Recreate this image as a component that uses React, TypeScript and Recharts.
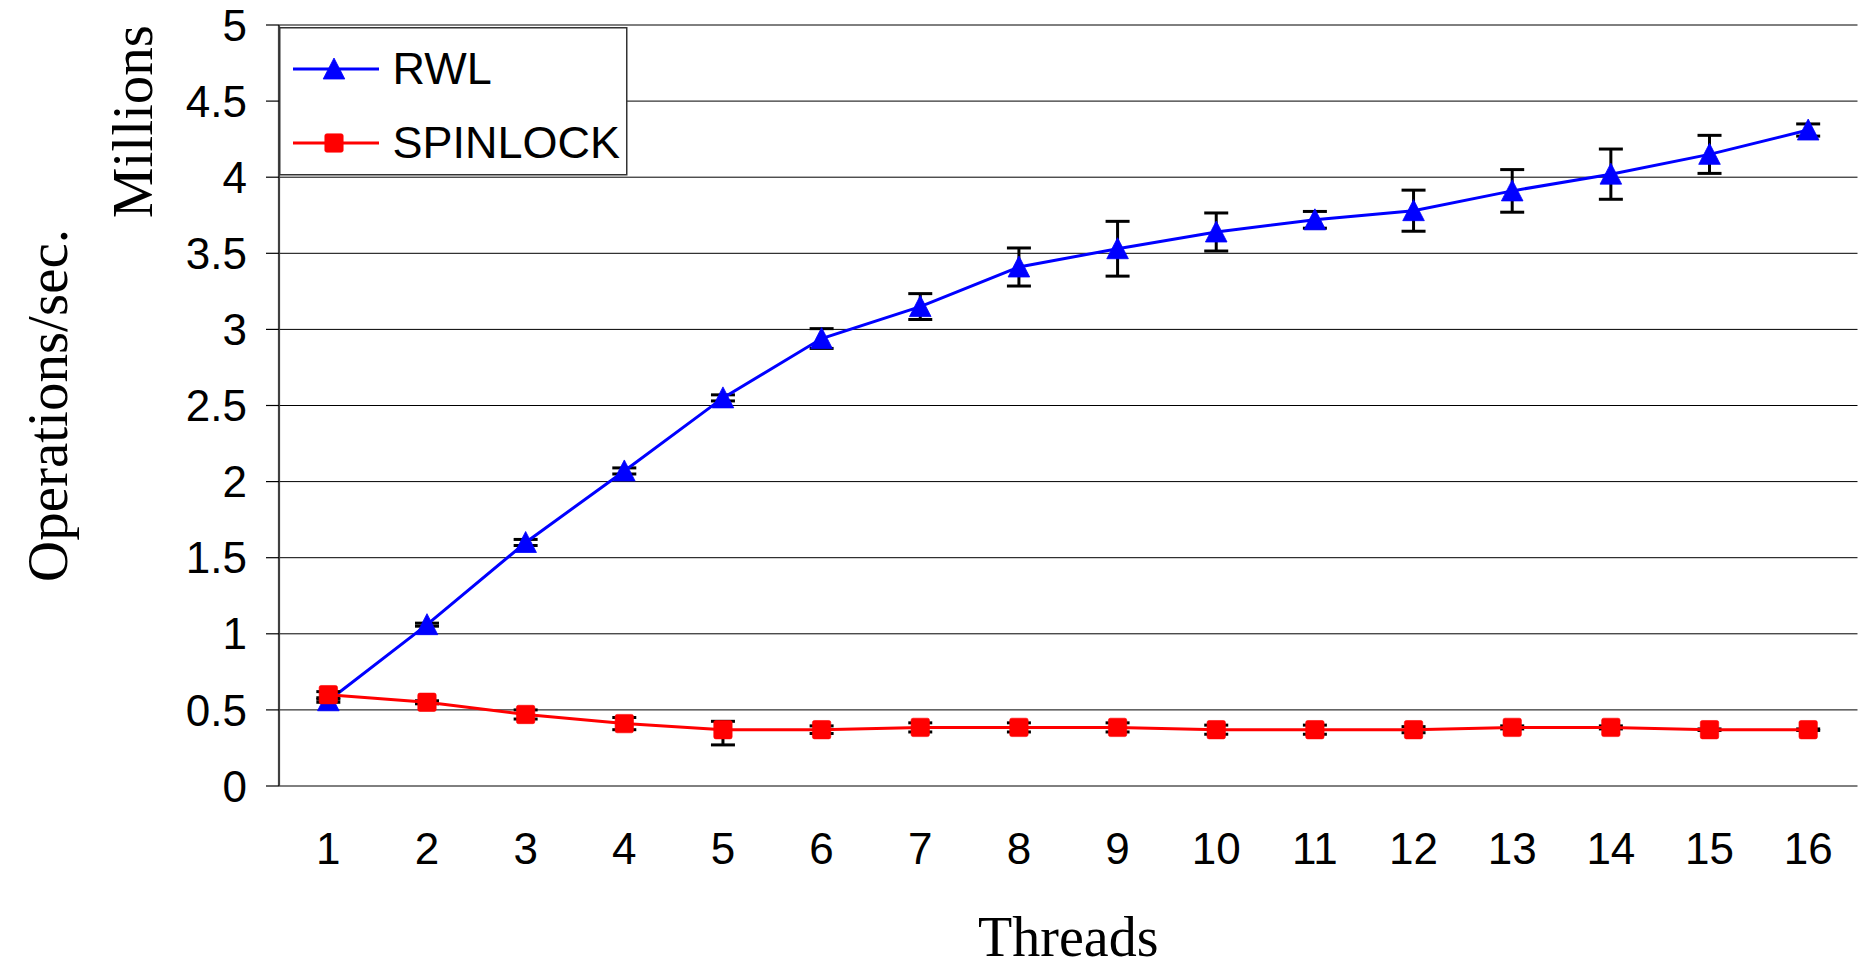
import React from 'react';
import { LineChart, Line, XAxis, YAxis, CartesianGrid, ErrorBar, Legend, Label } from 'recharts';

// Throughput (millions of operations per second) by thread count
const threads = [1, 2, 3, 4, 5, 6, 7, 8, 9, 10, 11, 12, 13, 14, 15, 16];
const rwlOps = [0.56, 1.06, 1.6, 2.07, 2.55, 2.94, 3.15, 3.41, 3.53, 3.64, 3.72, 3.78, 3.91, 4.02, 4.15, 4.31];
const rwlErr = [0.01, 0.01, 0.02, 0.02, 0.02, 0.065, 0.085, 0.125, 0.18, 0.125, 0.055, 0.135, 0.14, 0.165, 0.125, 0.04];
const spinOps = [0.6, 0.55, 0.47, 0.41, 0.37, 0.37, 0.385, 0.385, 0.385, 0.37, 0.37, 0.37, 0.385, 0.385, 0.37, 0.37];
const spinErrLow = [0.02, 0.01, 0.03, 0.04, 0.1, 0.025, 0.03, 0.03, 0.03, 0.03, 0.03, 0.02, 0.01, 0.01, 0.005, 0.005];
const spinErrHigh = [0.02, 0.01, 0.03, 0.04, 0.055, 0.025, 0.03, 0.03, 0.03, 0.03, 0.03, 0.02, 0.01, 0.01, 0.005, 0.005];
const yTicks = [0, 0.5, 1, 1.5, 2, 2.5, 3, 3.5, 4, 4.5, 5];

const threadBounds = [...threads.map((t) => t - 0.5), threads[threads.length - 1] + 0.5];

const rows = threads.map((t, i) => ({
  threads: t,
  rwl: rwlOps[i],
  rwlErr: rwlErr[i],
  spin: spinOps[i],
  spinErr: [spinErrLow[i], spinErrHigh[i]],
}));

const SANS = 'Liberation Sans, Arial, sans-serif';
const SERIF = 'Liberation Serif, Times New Roman, serif';
const BLUE = '#0000FF';
const RED = '#FF0000';

const triangle = (cx: number, cy: number, color: string, key?: React.Key) => (
  <path
    key={key}
    d={`M${cx},${cy - 11} L${cx + 10.8},${cy + 10} L${cx - 10.8},${cy + 10} Z`}
    fill={color}
    stroke={color}
    strokeWidth={0.8}
    strokeLinejoin="round"
  />
);

const square = (cx: number, cy: number, color: string, key?: React.Key) => (
  <rect key={key} x={cx - 9.2} y={cy - 9.2} width={18.4} height={18.4} rx={2} fill={color} stroke={color} strokeWidth={0.6} />
);

const TriangleDot = (p: any) => (p.cx == null ? null : triangle(p.cx, p.cy, BLUE, `t-${p.index}`));
const SquareDot = (p: any) => (p.cx == null ? null : square(p.cx, p.cy, RED, `s-${p.index}`));

const LegendBox = (props: any) => {
  const payload = props.payload || [];
  const rowsY = [42, 116];
  return (
    <svg width={349} height={149} style={{ display: 'block' }}>
      <rect x={0.75} y={0.75} width={347} height={147} fill="#fff" stroke="#333" strokeWidth={1.5} />
      {payload.map((entry: any, i: number) => {
        const y = rowsY[i];
        const color = entry.color;
        return (
          <g key={entry.value}>
            <line x1={14} x2={100} y1={y} y2={y} stroke={color} strokeWidth={3} />
            {entry.dataKey === 'rwl' ? triangle(55, y, color) : square(55, y, color)}
            <text x={113.5} y={y + 15} fontFamily={SANS} fontSize={45} fill="#000">
              {entry.value}
            </text>
          </g>
        );
      })}
    </svg>
  );
};

const OpsTitle = (props: any) => {
  const vb = props.viewBox;
  if (!vb) return null;
  return (
    <text
      transform={`translate(${vb.x + 67},${vb.y + vb.height / 2}) rotate(-90)`}
      textAnchor="middle"
      fontFamily={SERIF}
      fontSize={57}
      fill="#000"
    >
      Operations/sec.
    </text>
  );
};

const MillionsTitle = (props: any) => {
  const vb = props.viewBox;
  if (!vb) return null;
  return (
    <text
      transform={`translate(${vb.x + 152},${vb.y}) rotate(-90)`}
      textAnchor="end"
      fontFamily={SERIF}
      fontSize={57}
      fill="#000"
    >
      Millions
    </text>
  );
};

export default function App() {
  return (
    <div style={{ position: 'absolute', left: 0, top: 0, width: 1865, height: 964, background: '#fff' }}>
      <LineChart width={1865} height={964} data={rows} margin={{ top: 25, right: 7.5, bottom: 0, left: 0 }}>
        <CartesianGrid vertical={false} stroke="#000" strokeWidth={1} />
        {/* tick marks between categories */}
        <XAxis
          xAxisId="bounds"
          type="number"
          dataKey="threads"
          domain={[threadBounds[0], threadBounds[threadBounds.length - 1]]}
          ticks={threadBounds}
          interval={0}
          height={0}
          tickSize={13}
          tickFormatter={() => ''}
          tickLine={{ stroke: '#000', strokeWidth: 1.2 }}
          axisLine={{ stroke: '#404040', strokeWidth: 2.2 }}
        />
        {/* category labels */}
        <XAxis
          type="number"
          dataKey="threads"
          domain={[threadBounds[0], threadBounds[threadBounds.length - 1]]}
          ticks={threads}
          interval={0}
          height={178}
          tickSize={13}
          tickMargin={34}
          tickLine={false}
          axisLine={false}
          tick={{ fontSize: 44, fill: '#000', fontFamily: SANS }}
        >
          <Label value="Threads" position="insideBottom" offset={8} fontSize={56} fontFamily={SERIF} fill="#000" />
        </XAxis>
        <XAxis xAxisId="top" orientation="top" height={0} tick={false} tickLine={false} axisLine={{ stroke: '#808080', strokeWidth: 2.5 }} />
        <YAxis
          type="number"
          domain={[0, 5]}
          ticks={yTicks}
          interval={0}
          width={279}
          tickSize={13}
          tickMargin={19}
          tickLine={{ stroke: '#000', strokeWidth: 1.2 }}
          axisLine={{ stroke: '#404040', strokeWidth: 2.2 }}
          tick={{ fontSize: 44, fill: '#000', fontFamily: SANS }}
        >
          <Label content={OpsTitle} />
          <Label content={MillionsTitle} />
        </YAxis>
        <YAxis yAxisId="right" orientation="right" width={0} tick={false} tickLine={false} axisLine={{ stroke: '#808080', strokeWidth: 2.5 }} />
        <Legend
          layout="vertical"
          align="center"
          verticalAlign="middle"
          content={LegendBox}
          wrapperStyle={{ left: 279, top: 27, width: 349, height: 149 }}
        />
        <Line
          type="linear"
          dataKey="rwl"
          name="RWL"
          stroke={BLUE}
          strokeWidth={3}
          dot={TriangleDot}
          activeDot={false}
          isAnimationActive={false}
        >
          <ErrorBar dataKey="rwlErr" direction="y" width={12} stroke="#000" strokeWidth={3} isAnimationActive={false} />
        </Line>
        <Line
          type="linear"
          dataKey="spin"
          name="SPINLOCK"
          stroke={RED}
          strokeWidth={3}
          dot={SquareDot}
          activeDot={false}
          isAnimationActive={false}
        >
          <ErrorBar dataKey="spinErr" direction="y" width={12} stroke="#000" strokeWidth={3} isAnimationActive={false} />
        </Line>
      </LineChart>
    </div>
  );
}
